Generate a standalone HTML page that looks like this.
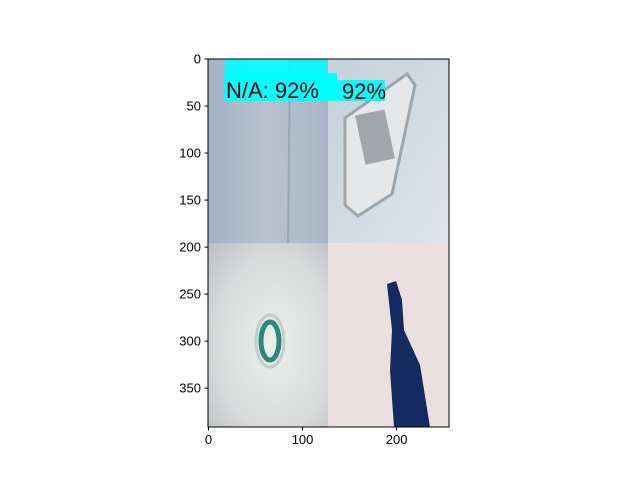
<!DOCTYPE html>
<html><head><meta charset="utf-8"><style>
body{margin:0;background:#fff;width:640px;height:480px;overflow:hidden}
text{font-family:"Liberation Sans","DejaVu Sans",sans-serif;font-size:13px;fill:#000}
</style></head><body>
<svg id="c" width="640" height="480">
<defs>
<linearGradient id="g1" x1="0" x2="1"><stop offset="0" stop-color="#a4b0c4"/><stop offset="0.5" stop-color="#b8c2d0"/><stop offset="1" stop-color="#a9b4c6"/></linearGradient>
<linearGradient id="g2" x1="0" x2="1" y1="0" y2="1"><stop offset="0" stop-color="#c4d0da"/><stop offset="1" stop-color="#dfe5ec"/></linearGradient>
<radialGradient id="g3" cx="0.55" cy="0.55" r="0.8"><stop offset="0" stop-color="#eceeee"/><stop offset="0.6" stop-color="#d8dadb"/><stop offset="1" stop-color="#b8bcbe"/></radialGradient>
</defs>
<g id="img">
<rect x="208" y="59" width="120" height="184" fill="url(#g1)"/>
<line x1="290" y1="59" x2="288" y2="243" stroke="#9aa5b6" stroke-width="2"/>
<rect x="328" y="59" width="121" height="184" fill="url(#g2)"/>
<polygon points="345,118 407,74 415,85 392,194 358,216 345,205" fill="#e4e8ea" stroke="#9aa8ae" stroke-width="3"/>
<rect x="360" y="112" width="30" height="50" fill="#6a7074" opacity="0.55" transform="rotate(-12 375 137)"/>
<rect x="208" y="243" width="120" height="184" fill="url(#g3)"/>
<ellipse cx="270" cy="341" rx="9" ry="19" fill="none" stroke="#2a8a7a" stroke-width="5"/>
<ellipse cx="270" cy="341" rx="14" ry="26" fill="none" stroke="#c6cccc" stroke-width="3"/>
<rect x="328" y="243" width="121" height="184" fill="#ecdfe0"/>
<path d="M387,284 L396,281 L402,300 L404,330 L420,365 L430,427 L394,427 L390,370 L392,330 Z" fill="#152a60"/>
</g>
<g>
<rect x="225" y="59" width="102" height="17" fill="#00ffff" opacity="0.9"/>
<rect x="224" y="73" width="113" height="28" fill="#00ffff"/>
<rect x="335" y="80" width="50" height="21" fill="#00ffff"/>
<text x="226" y="98" style="font-size:22px">N/A: 92%</text>
<text x="342" y="99" style="font-size:22px">92%</text>
</g>
<rect x="208" y="59" width="241" height="368" fill="none" stroke="#000" stroke-width="1"/>
<g id="ax"></g>
</svg>
<script>
const xTicks=[0,100,200];
const yTicks=[0,50,100,150,200,250,300,350];
const x0=208.5,y0=59,k=0.9405;
const sx=v=>x0+v*k, sy=v=>y0+v*k;
const ax=document.getElementById('ax');
const NS='http://www.w3.org/2000/svg';
function mk(t,a){const e=document.createElementNS(NS,t);for(const n in a)e.setAttribute(n,a[n]);ax.appendChild(e);return e;}
xTicks.forEach(v=>{
 const l=mk('line',{x1:sx(v),x2:sx(v),y1:427,y2:430.5,stroke:'#000'});
 
 
 const t=mk('text',{x:sx(v),y:444,'text-anchor':'middle'});t.textContent=v;
 
 
});
yTicks.forEach(v=>{
 const l=mk('line',{x1:204.5,x2:208,y1:sy(v),y2:sy(v),stroke:'#000'});
 
 
 const t=mk('text',{x:201,y:sy(v)+4.5,'text-anchor':'end'});t.textContent=v;
 
 
});
</script>
</body></html>
